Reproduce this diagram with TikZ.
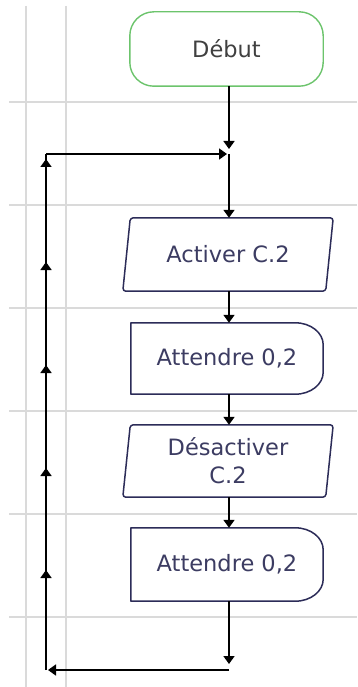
\documentclass[tikz,border=0pt]{standalone}
\usepackage{fontspec}
\setmainfont{DejaVu Sans}
\usetikzlibrary{arrows.meta,calc,decorations.markings}

\definecolor{gridgray}{HTML}{DADADA}
\definecolor{startgreen}{HTML}{6CC46C}
\definecolor{boxnavy}{HTML}{2C2C58}
\definecolor{textnavy}{HTML}{3C3C62}
\definecolor{textgray}{HTML}{404040}

\tikzset{
  gridline/.style={draw=gridgray, line width=1.4pt},
  flow/.style={draw=black, line width=1.7pt, -{Triangle[width=11pt,length=8pt]}},
  plainflow/.style={draw=black, line width=1.7pt},
  boxlabel/.style={inner sep=0pt, font=\fontsize{22.5}{28}\selectfont, text=textnavy, align=center},
  outline/.style={draw=boxnavy, line width=1.5pt, line join=round},
  startline/.style={draw=startgreen, line width=1.4pt},
  uptip/.style={postaction=decorate, decoration={markings,
    mark=at position 100pt with {\arrow{Triangle[width=11pt,length=8pt]}},
    mark=at position 202pt with {\arrow{Triangle[width=11pt,length=8pt]}},
    mark=at position 305pt with {\arrow{Triangle[width=11pt,length=8pt]}},
    mark=at position 408pt with {\arrow{Triangle[width=11pt,length=8pt]}},
    mark=at position 511pt with {\arrow{Triangle[width=11pt,length=8pt]}}}}
}

\begin{document}
\begin{tikzpicture}[x=1pt,y=-1pt]
  \useasboundingbox (0,0) rectangle (357,687);
  \fill[white] (0,0) rectangle (357,687);

  % background grid
  \foreach \gy in {102,205,308,411,514,617}
    \draw[gridline] (9,\gy) -- (357,\gy);
  \foreach \gx in {26,66}
    \draw[gridline] (\gx,6) -- (\gx,687);

  % nodes
  \node[boxlabel, minimum width=193pt, minimum height=74pt, text=textgray] (start) at (226.5,49) {Début};
  \node[boxlabel, minimum width=210pt, minimum height=73pt] (act) at (228,254.5) {Activer C.2};
  \node[boxlabel, minimum width=192pt, minimum height=71pt] (w1) at (227,358.5) {Attendre 0,2};
  \node[boxlabel, minimum width=210pt, minimum height=72pt] (deact) at (228,461) {Désactiver\\C.2};
  \node[boxlabel, minimum width=192pt, minimum height=73pt] (w2) at (227,564.5) {Attendre 0,2};

  % terminal outline
  \draw[startline, rounded corners=24pt] (start.north west) rectangle (start.south east);

  % input/output parallelograms
  \foreach \n in {act,deact}
    \draw[outline, rounded corners=3pt]
      ($(\n.north west)+(7.5pt,0)$) -- (\n.north east)
      -- ($(\n.south east)+(-7.5pt,0)$) -- (\n.south west) -- cycle;

  % delay shapes
  \foreach \n in {w1,w2}
    \draw[outline]
      (\n.south west) -- (\n.north west)
      -- ($(\n.north east)+(-28pt,0)$)
      arc[start angle=90, end angle=0, x radius=28pt, y radius=22pt]
      -- ($(\n.south east)+(0,22pt)$)
      arc[start angle=0, end angle=-90, x radius=28pt, y radius=22pt]
      -- cycle;

  % loop coordinates
  \coordinate (j) at (229,154);
  \coordinate (bot) at (229,670);
  \coordinate (lb) at (46,670);
  \coordinate (lt) at (46,154);

  % main flow
  \draw[flow, shorten >=5pt] (start.south -| j) -- (j);
  \draw[flow] (j) -- (j |- act.north);
  \draw[flow] (act.south -| j) -- (w1.north -| j);
  \draw[flow] (w1.south -| j) -- (deact.north -| j);
  \draw[flow] (deact.south -| j) -- (w2.north -| j);
  \draw[flow, shorten >=6pt] (w2.south -| j) -- (bot);

  % return loop
  \draw[flow, shorten >=2pt] (bot) -- (lb);
  \draw[plainflow, uptip] (lb) -- (lt);
  \draw[flow, shorten >=2pt] (lt) -- (j);
\end{tikzpicture}
\end{document}
